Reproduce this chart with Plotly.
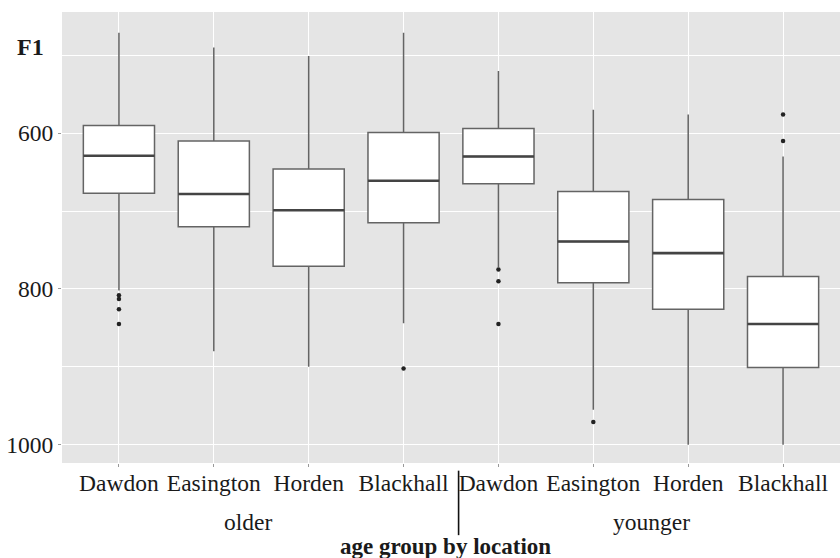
import plotly.graph_objects as go

# ---- data ----
locations = ["Dawdon", "Easington", "Horden", "Blackhall",
             "Dawdon", "Easington", "Horden", "Blackhall"]
groups = ["older", "younger"]
upper_whisker = [471, 490, 501, 471, 520, 570, 576, 630]
q1_vals = [590, 610, 646, 599, 594, 675, 685, 784]
median_vals = [629, 678, 699, 661, 630, 739, 754, 845]
q3_vals = [677, 720, 771, 715, 665, 792, 826, 901]
lower_whisker = [802, 880, 900, 844, 772, 955, 1000, 1000]
outlier_pos = [0, 0, 0, 0, 3, 4, 4, 4, 5, 7, 7]
outlier_vals = [808, 813, 826, 845, 902, 775, 790, 845, 971, 576, 610]
y_ticks = [600, 800, 1000]
y_minor = [500, 700, 900]

pos = list(range(len(locations)))
BOX_W = 0.75
FONT = "Liberation Serif"
TXT = "#1a1a1a"

fig = go.Figure()
fig.add_trace(go.Box(
    x=pos,
    q1=q1_vals, median=median_vals, q3=q3_vals,
    lowerfence=upper_whisker, upperfence=lower_whisker,
    width=BOX_W, whiskerwidth=0,
    fillcolor="white",
    line=dict(color="#646464", width=1.5),
    boxpoints=False, showlegend=False, hoverinfo="skip",
))
# darker, thicker median bars (as in ggplot)
mx, my = [], []
for p, m in zip(pos, median_vals):
    mx += [p - BOX_W / 2, p + BOX_W / 2, None]
    my += [m, m, None]
fig.add_trace(go.Scatter(x=mx, y=my, mode="lines",
                         line=dict(color="#444444", width=2.6),
                         showlegend=False, hoverinfo="skip"))
fig.add_trace(go.Scatter(
    x=outlier_pos, y=outlier_vals, mode="markers",
    marker=dict(color="#222222", size=4.5),
    showlegend=False,
))

fig.update_layout(
    width=840, height=558,
    margin=dict(l=62, r=0, t=12, b=95),
    paper_bgcolor="white",
    plot_bgcolor="#e5e5e5",
    font=dict(family=FONT, size=23.5, color=TXT),
    xaxis=dict(
        range=[-0.6, 7.6],
        tickmode="array", tickvals=pos, ticktext=locations,
        showgrid=True, gridcolor="white", gridwidth=1.3,
        zeroline=False, ticks="outside", ticklen=3, tickcolor="#999999",
        tickfont=dict(family=FONT, size=23.5, color=TXT),
        ticklabelstandoff=-4,
        showline=False,
    ),
    yaxis=dict(
        range=[1023.5, 444.4],
        tickmode="array", tickvals=y_ticks,
        showgrid=True, gridcolor="white", gridwidth=1.3,
        zeroline=False, ticks="outside", ticklen=3, tickcolor="#999999",
        tickfont=dict(family=FONT, size=23.5, color=TXT),
        minor=dict(tickmode="array", tickvals=y_minor, showgrid=True,
                   gridcolor="white", gridwidth=0.6, ticks=""),
        showline=False,
    ),
)

annos = [
    dict(text="<b>F1</b>", xref="paper", yref="paper", x=-0.041, y=0.922,
         font=dict(size=24)),
    dict(text=groups[0], xref="x", yref="paper", x=1.36, y=-0.130,
         font=dict(size=23.5)),
    dict(text=groups[1], xref="x", yref="paper", x=5.61, y=-0.130,
         font=dict(size=23.5)),
    dict(text="<b>age group by location</b>", xref="x", yref="paper",
         x=3.44, y=-0.186, font=dict(size=23)),
]
for a in annos:
    a.update(showarrow=False, xanchor="center", yanchor="middle")
fig.update_layout(annotations=annos)

fig.add_shape(type="line", xref="x", yref="paper", x0=3.58, x1=3.58,
              y0=-0.017, y1=-0.160, line=dict(color="#111111", width=1.6))

# remove the browser's default 8px page margin so the figure fills the window
fig.write_html(
    "out.html",
    config={"displayModeBar": False},
    post_script="document.body.style.margin='0';"
                "document.body.style.overflow='hidden';",
)
